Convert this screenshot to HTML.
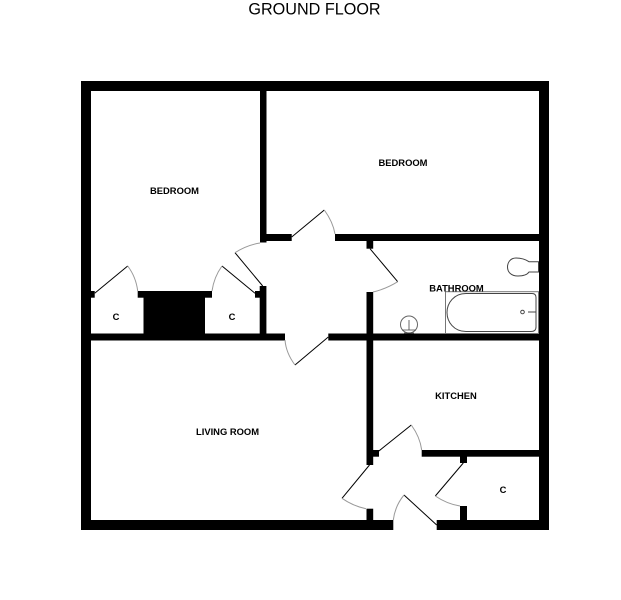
<!DOCTYPE html>
<html><head><meta charset="utf-8"><style>
html,body{margin:0;padding:0;background:#fff;width:621px;height:600px;overflow:hidden}
svg{display:block}
text{font-family:"Liberation Sans",sans-serif;fill:#000}
.l{font-size:9.4px;font-weight:bold;text-anchor:middle}
</style></head><body>
<svg width="621" height="600" viewBox="0 0 621 600" xmlns="http://www.w3.org/2000/svg">
<rect width="621" height="600" fill="#fff"/>
<g fill="#000">
<rect x="81" y="81" width="468" height="10"/>
<rect x="81" y="81" width="10" height="449"/>
<rect x="539" y="81" width="10" height="449"/>
<rect x="81" y="520" width="312.3" height="10"/>
<rect x="436.7" y="520" width="112.3" height="10"/>
<rect x="260" y="91" width="6.5" height="151.5"/>
<rect x="260" y="234" width="31.7" height="7"/>
<rect x="335" y="234" width="204" height="7"/>
<rect x="366.5" y="241" width="6.7" height="7.7"/>
<rect x="366.5" y="292" width="6.7" height="173"/>
<rect x="91" y="333.5" width="194" height="7"/>
<rect x="328.3" y="333.5" width="210.7" height="7"/>
<rect x="91" y="291" width="3.7" height="6.7"/>
<rect x="137.7" y="291" width="74.3" height="6.7"/>
<rect x="143.5" y="291" width="61.5" height="43"/>
<rect x="255" y="291" width="5" height="6.7"/>
<rect x="259.7" y="286" width="6.7" height="48"/>
<rect x="373" y="450" width="6" height="6.7"/>
<rect x="421.7" y="450" width="117.3" height="6.7"/>
<rect x="460" y="456" width="7" height="7"/>
<rect x="460" y="506" width="7" height="14"/>
<rect x="366.5" y="508.7" width="6.7" height="11.3"/>
</g>
<g fill="none" stroke="#000" stroke-width="1">
<path d="M94.7 293.3L127.7 266"/>
<path d="M255 293.3L222 266"/>
<path d="M262.7 286L235 252.7"/>
<path d="M291.7 237L324.3 210"/>
<path d="M370 248.7L397.7 281.7"/>
<path d="M328.3 337L295 365"/>
<path d="M378 451.7L411.3 425"/>
<path d="M463.3 463L435.3 496"/>
<path d="M369.5 465L342 498.3"/>
<path d="M436.7 525L404 495"/>
</g>
<g fill="none" stroke="#999" stroke-width="1">
<path d="M127.7 266Q136 277 137.7 291"/>
<path d="M222 266Q214 277 212 291"/>
<path d="M235 252.7Q247 245 260 243"/>
<path d="M324.3 210Q333 222 335 234"/>
<path d="M397.7 281.7Q386 289 373 292"/>
<path d="M295 365Q286 353 285 340"/>
<path d="M411.3 425Q420 437 421.7 450"/>
<path d="M435.3 496Q447 504 460 506"/>
<path d="M342 498.3Q353 506 366 508.7"/>
<path d="M404 495Q395 506 393.3 520"/>
</g>
<g fill="none" stroke="#444" stroke-width="1">
<rect x="445.5" y="291.7" width="93" height="41.8" stroke="#777"/>
<path d="M466 293.500H532Q536 293.500 536 297.500V327Q536 331.500 531 331.500H466C454 331.500 447 322 447 312.500C447 303 454 293.500 466 293.500Z"/>
<circle cx="522.500" cy="312" r="1.800"/>
<path d="M528 312H536M536 307V317"/>
<path d="M538.500 261.700H529C525 259 520 258 516 258C510 258 507.500 263 507.500 267C507.500 272 511 276 518 276C523 276 527 275 529 272H538.500Z"/>
<circle cx="409" cy="324.500" r="8.500" stroke="#666"/>
<path d="M402 330H416M404 333H414M409 320V330" stroke-width="0.8"/>
</g>
<text x="314.500" y="14.500" font-size="16.200" text-anchor="middle">GROUND FLOOR</text>
<text class="l" x="174.500" y="194">BEDROOM</text>
<text class="l" x="403" y="166">BEDROOM</text>
<text class="l" x="456.500" y="291.500">BATHROOM</text>
<text class="l" x="456" y="399">KITCHEN</text>
<text class="l" x="227.500" y="435">LIVING ROOM</text>
<text class="l" x="116" y="320">C</text>
<text class="l" x="232" y="320">C</text>
<text class="l" x="503" y="493">C</text>
</svg>
</body></html>
